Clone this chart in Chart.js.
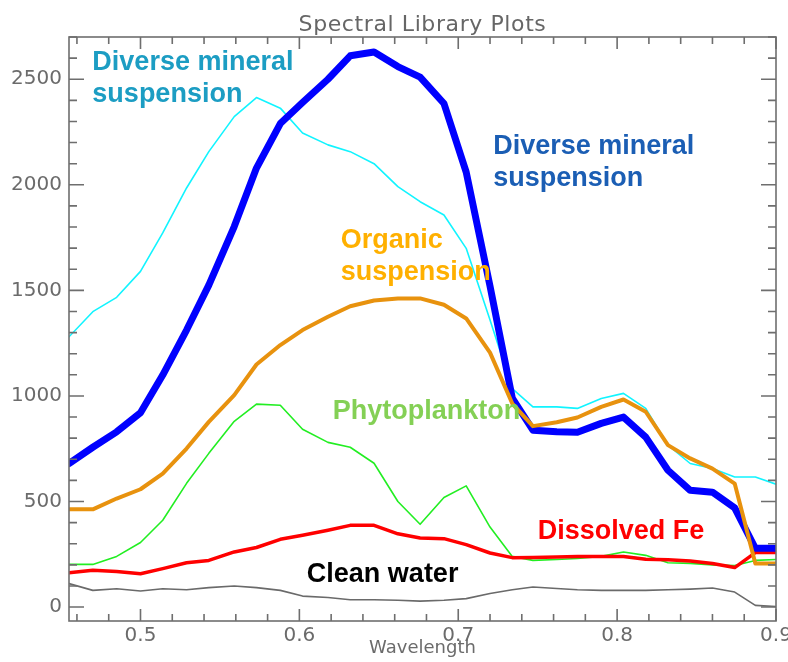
<!DOCTYPE html>
<html>
<head>
<meta charset="utf-8">
<script src="https://cdn.jsdelivr.net/npm/chart.js@4.4.1/dist/chart.umd.min.js"></script>
<style>
  html, body { margin: 0; padding: 0; background: #ffffff; }
  canvas { display: block; }
</style>
</head>
<body>
<canvas id="c" width="788" height="662"></canvas>
<script>
// ---- data ----
const wavelength = [0.455,0.470,0.485,0.500,0.514,0.529,0.543,0.559,0.573,0.588,0.602,0.618,0.632,0.647,0.662,0.676,0.691,0.705,0.720,0.734,0.747,0.762,0.775,0.790,0.804,0.818,0.832,0.846,0.860,0.874,0.887,0.900];

const mineralBlue = [680,757,830,920,1099,1312,1525,1802,2079,2290,2390,2500,2611,2629,2560,2510,2385,2060,1520,990,838,830,828,870,900,805,648,553,544,470,278,278];
const mineralCyan = [1280,1399,1467,1590,1772,1985,2157,2323,2413,2363,2245,2189,2157,2100,1991,1920,1857,1699,1360,1035,948,948,941,988,1012,941,767,680,656,616,616,582];
const organic     = [463,463,514,558,632,751,877,1004,1149,1241,1312,1375,1425,1452,1462,1462,1432,1367,1205,964,857,875,898,948,983,925,767,704,656,585,206,206];
const phyto       = [202,202,240,306,411,586,728,880,961,956,842,780,757,681,500,392,519,574,379,240,221,225,230,240,261,245,210,207,200,197,221,225];
const dissolvedFe = [163,174,169,158,182,210,221,261,282,321,340,364,387,387,347,327,324,296,256,234,235,237,240,240,240,226,224,218,206,187,258,258];
const cleanWater  = [111,79,87,76,87,82,92,100,92,79,52,45,35,35,32,28,32,40,64,82,95,88,82,79,79,79,82,85,90,71,8,3];

const xTickValues = [0.5,0.6,0.7,0.8,0.9];
const yTickValues = [0,500,1000,1500,2000,2500];

const titleText = 'Spectral Library Plots';
const xTitle = 'Wavelength';

// annotation labels: text lines, colour, anchor in data units (left edge, middle of first line)
const labelTexts  = [['Diverse mineral','suspension'],['Diverse mineral','suspension'],['Organic','suspension'],['Phytoplankton'],['Dissolved Fe'],['Clean water']];
const labelColors = ['#1c9dc3','#1b5eb4','#ffb000','#84d055','#ff0000','#000000'];
const labelX      = [0.4697,0.722,0.626,0.621,0.750,0.6047];
const labelY      = [2578,2180,1734,925,356,155];

// ---- build chart ----
const toPts = arr => arr.map((v,i) => ({x: wavelength[i], y: v}));
const axisGray = '#6e6e6e';
const fontFam = '"DejaVu Sans", sans-serif';

const framePlugin = {
  id: 'frame',
  afterDatasetsDraw(chart) {
    const {ctx, chartArea: a, scales: {x, y}} = chart;
    ctx.save();
    ctx.strokeStyle = axisGray;
    ctx.lineWidth = 1.6;
    ctx.strokeRect(a.left, a.top, a.right - a.left, a.bottom - a.top);
    ctx.beginPath();
    // x ticks every 0.02, major every 0.1
    for (let k = 23; k <= 45; k++) {
      const v = k / 50;
      const px = x.getPixelForValue(v);
      if (px < a.left - 0.5 || px > a.right + 0.5) continue;
      const major = (k % 5 === 0);
      const len = major ? 12 : 7;
      ctx.moveTo(px, a.bottom); ctx.lineTo(px, a.bottom - len);
      ctx.moveTo(px, a.top); ctx.lineTo(px, a.top + len);
    }
    // y ticks every 100, major every 500
    for (let v = 0; v <= 2700; v += 100) {
      const py = y.getPixelForValue(v);
      if (py < a.top - 0.5 || py > a.bottom + 0.5) continue;
      const major = (v % 500 === 0);
      const len = major ? 15 : 8;
      ctx.moveTo(a.left, py); ctx.lineTo(a.left + len, py);
      ctx.moveTo(a.right, py); ctx.lineTo(a.right - len, py);
    }
    ctx.stroke();

    // annotation labels
    ctx.font = 'bold 27px "Liberation Sans", Arial, sans-serif';
    ctx.textAlign = 'left';
    ctx.textBaseline = 'middle';
    labelTexts.forEach((lines, i) => {
      const lx = x.getPixelForValue(labelX[i]);
      const ly = y.getPixelForValue(labelY[i]);
      ctx.fillStyle = labelColors[i];
      lines.forEach((t, j) => ctx.fillText(t, lx, ly + j * 32));
    });

    // title
    ctx.font = '22px ' + fontFam;
    ctx.fillStyle = '#666666';
    ctx.textAlign = 'center';
    ctx.textBaseline = 'alphabetic';
    try { ctx.letterSpacing = '0.6px'; } catch (e) {}
    ctx.fillText(titleText, (a.left + a.right) / 2, 31);
    ctx.restore();
  }
};

new Chart(document.getElementById('c'), {
  type: 'line',
  data: {
    datasets: [
      {label: 'Organic suspension', data: toPts(organic), borderColor: '#e8920e', borderWidth: 4, order: 1},
      {label: 'Diverse mineral suspension (blue)', data: toPts(mineralBlue), borderColor: '#0000ff', borderWidth: 7, order: 2},
      {label: 'Dissolved Fe', data: toPts(dissolvedFe), borderColor: '#ff0000', borderWidth: 3.5, order: 3},
      {label: 'Phytoplankton', data: toPts(phyto), borderColor: '#22ee22', borderWidth: 1.6, order: 4},
      {label: 'Diverse mineral suspension (cyan)', data: toPts(mineralCyan), borderColor: '#11f4ff', borderWidth: 1.6, order: 5},
      {label: 'Clean water', data: toPts(cleanWater), borderColor: '#6a6a6a', borderWidth: 1.6, order: 6}
    ]
  },
  options: {
    responsive: false,
    animation: false,
    layout: {padding: {top: 37, right: 12, left: 0, bottom: 0}},
    plugins: {legend: {display: false}, tooltip: {enabled: false}, title: {display: false}},
    elements: {point: {radius: 0}, line: {tension: 0, borderJoinStyle: 'round', borderCapStyle: 'round', fill: false}},
    scales: {
      x: {
        type: 'linear', min: 0.455, max: 0.9,
        afterBuildTicks: s => { s.ticks = xTickValues.map(v => ({value: v})); },
        ticks: {callback: v => Number(v).toFixed(1), font: {family: fontFam, size: 20}, color: '#6b6b6b', padding: 3, maxRotation: 0, autoSkip: false},
        grid: {display: false, drawTicks: false}, border: {display: false},
        title: {display: true, text: xTitle, font: {family: fontFam, size: 18}, color: '#6b6b6b', padding: {top: 0, bottom: 3}},
        afterFit: s => { s.height = 41; s.paddingLeft = 0; s.paddingRight = 0; }
      },
      y: {
        type: 'linear', min: -66, max: 2700,
        afterBuildTicks: s => { s.ticks = yTickValues.map(v => ({value: v})); },
        ticks: {callback: v => String(v), font: {family: fontFam, size: 20}, color: '#6b6b6b', padding: 7},
        grid: {display: false, drawTicks: false}, border: {display: false},
        afterFit: s => { s.width = 69; s.paddingTop = 0; s.paddingBottom = 0; }
      }
    }
  },
  plugins: [framePlugin]
});
</script>
</body>
</html>
